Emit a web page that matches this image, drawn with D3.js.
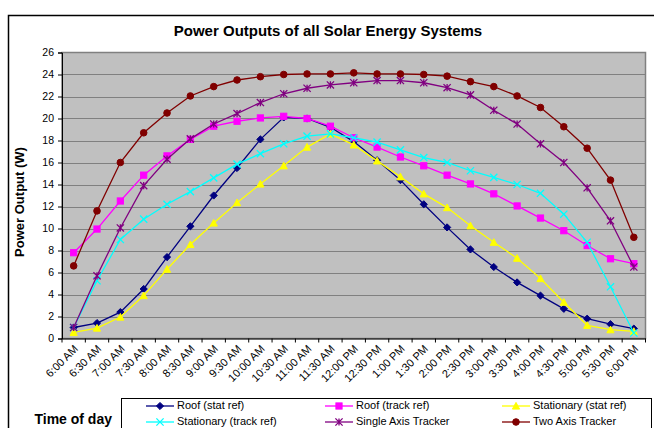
<!DOCTYPE html>
<html><head><meta charset="utf-8">
<script src="https://cdn.jsdelivr.net/npm/d3@7"></script>
<style>body{margin:0;background:#fff;}svg{display:block;font-family:"Liberation Sans",Arial,sans-serif;}</style>
</head><body><svg id="c" width="654" height="428"></svg>
<script>
const times = ["6:00 AM","6:30 AM","7:00 AM","7:30 AM","8:00 AM","8:30 AM","9:00 AM","9:30 AM","10:00 AM","10:30 AM","11:00 AM","11:30 AM","12:00 PM","12:30 PM","1:00 PM","1:30 PM","2:00 PM","2:30 PM","3:00 PM","3:30 PM","4:00 PM","4:30 PM","5:00 PM","5:30 PM","6:00 PM"];
const yTicks = [0,2,4,6,8,10,12,14,16,18,20,22,24,26];
const roofStat = [1.0,1.4,2.4,4.5,7.4,10.2,13.0,15.5,18.1,20.1,20.0,19.2,17.9,16.2,14.4,12.2,10.1,8.1,6.5,5.1,3.9,2.7,1.8,1.3,0.9];
const roofTrack = [7.8,9.95,12.5,14.85,16.6,18.1,19.3,19.75,20.05,20.2,20.0,19.3,18.25,17.4,16.5,15.7,14.85,14.05,13.15,12.05,10.95,9.8,8.45,7.25,6.8];
const statStat = [0.55,0.95,1.95,3.9,6.3,8.55,10.5,12.35,14.05,15.7,17.4,18.6,17.6,16.15,14.7,13.15,11.9,10.25,8.75,7.3,5.45,3.3,1.2,0.8,0.65];
const statTrack = [1.0,5.25,9.0,10.85,12.2,13.35,14.6,15.85,16.8,17.7,18.4,18.6,18.25,17.85,17.15,16.45,16.0,15.25,14.65,14.0,13.2,11.3,8.75,4.7,0.5];
const singleAxis = [1.0,5.7,10.05,13.9,16.3,18.15,19.5,20.45,21.45,22.25,22.75,23.05,23.25,23.45,23.45,23.25,22.8,22.15,20.75,19.5,17.7,16.0,13.7,10.7,6.5];
const twoAxis = [6.6,11.6,16.0,18.7,20.5,22.05,22.9,23.5,23.8,24.0,24.05,24.05,24.15,24.05,24.05,24.0,23.85,23.35,22.9,22.05,21.0,19.25,17.3,14.4,9.2];

const seriesNames = ["Roof (stat ref)","Roof (track ref)","Stationary (stat ref)","Stationary (track ref)","Single Axis Tracker","Two Axis Tracker"];
const seriesData = [roofStat, roofTrack, statStat, statTrack, singleAxis, twoAxis];
const seriesColors = ["#000080","#FF00FF","#FFFF00","#00FFFF","#800080","#800000"];
const seriesMarkers = ["diamond","square","triangle","x","star","circle"];

const svg = d3.select("#c");
const L=62, R=645.5, T=52.5, B=338.5;

// outer frame
svg.append("rect").attr("x",8.5).attr("y",15.5).attr("width",660).attr("height",440)
  .attr("fill","none").attr("stroke","#000").attr("stroke-width",1.5);

const x = d3.scaleBand().domain(times).range([L,R]).paddingInner(0).paddingOuter(0);
const y = d3.scaleLinear().domain([0,26]).range([B,T]);

svg.append("rect").attr("x",L).attr("y",T).attr("width",R-L).attr("height",B-T).attr("fill","#C0C0C0");
// gridlines
svg.append("g").selectAll("line").data(yTicks.slice(1,-1)).join("line")
  .attr("x1",L).attr("x2",R).attr("y1",d=>Math.round(y(d))+0.5).attr("y2",d=>Math.round(y(d))+0.5)
  .attr("stroke","#808080").attr("stroke-width",1);
svg.append("rect").attr("x",L).attr("y",T).attr("width",R-L).attr("height",B-T)
  .attr("fill","none").attr("stroke","#808080").attr("stroke-width",1.5);

// y axis
const ya = svg.append("g").attr("transform",`translate(${L},0)`)
  .call(d3.axisLeft(y).tickValues(yTicks).tickSize(4).tickPadding(4));
ya.select(".domain").attr("stroke","#000");
ya.selectAll("text").attr("font-size","10.5px").attr("font-family","Liberation Sans, Arial, sans-serif").attr("fill","#000");

// x axis
const xa = svg.append("g").attr("transform",`translate(0,${B})`)
  .call(d3.axisBottom(x).tickSize(4).tickSizeOuter(0).tickFormat(()=>""));
xa.select(".domain").attr("stroke","#000");
xa.selectAll(".tick").remove();
const bounds = times.map(t=>x(t)).concat([R]);
xa.selectAll("line.b").data(bounds).join("line").attr("class","b")
  .attr("x1",d=>d).attr("x2",d=>d).attr("y1",0).attr("y2",4).attr("stroke","#000");
svg.append("g").selectAll("text").data(times).join("text")
  .attr("transform",d=>`translate(${x(d)+x.bandwidth()/2+3},${B+9}) rotate(-45)`)
  .attr("text-anchor","end").attr("dominant-baseline","middle")
  .attr("font-size","11px").text(d=>d);

// series lines
const cx = i => x(times[i]) + x.bandwidth()/2;
const line = d3.line().x((d,i)=>cx(i)).y(d=>y(d));

function marker(g, type, color, px, py, s){
  if(type==="diamond"){
    g.append("path").attr("d",`M${px},${py-s}L${px+s},${py}L${px},${py+s}L${px-s},${py}Z`).attr("fill",color).attr("stroke",color);
  } else if(type==="square"){
    g.append("rect").attr("x",px-s+0.5).attr("y",py-s+0.5).attr("width",2*s-1).attr("height",2*s-1).attr("fill",color).attr("stroke",color);
  } else if(type==="triangle"){
    g.append("path").attr("d",`M${px},${py-s}L${px+s},${py+s-0.5}L${px-s},${py+s-0.5}Z`).attr("fill",color).attr("stroke",color);
  } else if(type==="x"){
    g.append("path").attr("d",`M${px-s},${py-s}L${px+s},${py+s}M${px-s},${py+s}L${px+s},${py-s}`).attr("stroke",color).attr("stroke-width",1.3).attr("fill","none");
  } else if(type==="star"){
    g.append("path").attr("d",`M${px-s},${py-s}L${px+s},${py+s}M${px-s},${py+s}L${px+s},${py-s}M${px},${py-s}L${px},${py+s}`).attr("stroke",color).attr("stroke-width",1.3).attr("fill","none");
  } else if(type==="circle"){
    g.append("circle").attr("cx",px).attr("cy",py).attr("r",s-0.3).attr("fill",color).attr("stroke",color);
  }
}

seriesData.forEach((data,k)=>{
  const g = svg.append("g");
  g.append("path").datum(data).attr("d",line).attr("fill","none")
    .attr("stroke",seriesColors[k]).attr("stroke-width",1.3);
  data.forEach((v,i)=>marker(g, seriesMarkers[k], seriesColors[k], cx(i), y(v), 3.6));
});

// title
svg.append("text").attr("x",328).attr("y",36).attr("text-anchor","middle")
  .attr("font-size","15px").attr("font-weight","bold").text("Power Outputs of all Solar Energy Systems");
// y title
svg.append("text").attr("transform","translate(24,202) rotate(-90)").attr("text-anchor","middle")
  .attr("font-size","13px").attr("font-weight","bold").text("Power Output (W)");
// x title
svg.append("text").attr("x",112).attr("y",424).attr("text-anchor","end")
  .attr("font-size","14px").attr("font-weight","bold").text("Time of day");

// legend
svg.append("rect").attr("x",121.5).attr("y",398.5).attr("width",530).attr("height",60)
  .attr("fill","#fff").attr("stroke","#000").attr("stroke-width",1);
const colX=[146,325,502], rowY=[406,422];
seriesNames.forEach((n,k)=>{
  const c=k%3, r=Math.floor(k/3);
  const lx=colX[c], ly=rowY[r];
  const g=svg.append("g");
  g.append("line").attr("x1",lx).attr("x2",lx+28).attr("y1",ly).attr("y2",ly).attr("stroke",seriesColors[k]).attr("stroke-width",1.3);
  marker(g, seriesMarkers[k], seriesColors[k], lx+14, ly, 3.6);
  g.append("text").attr("x",lx+31).attr("y",ly).attr("dominant-baseline","middle").attr("font-size","11px").text(n);
});
</script></body></html>
